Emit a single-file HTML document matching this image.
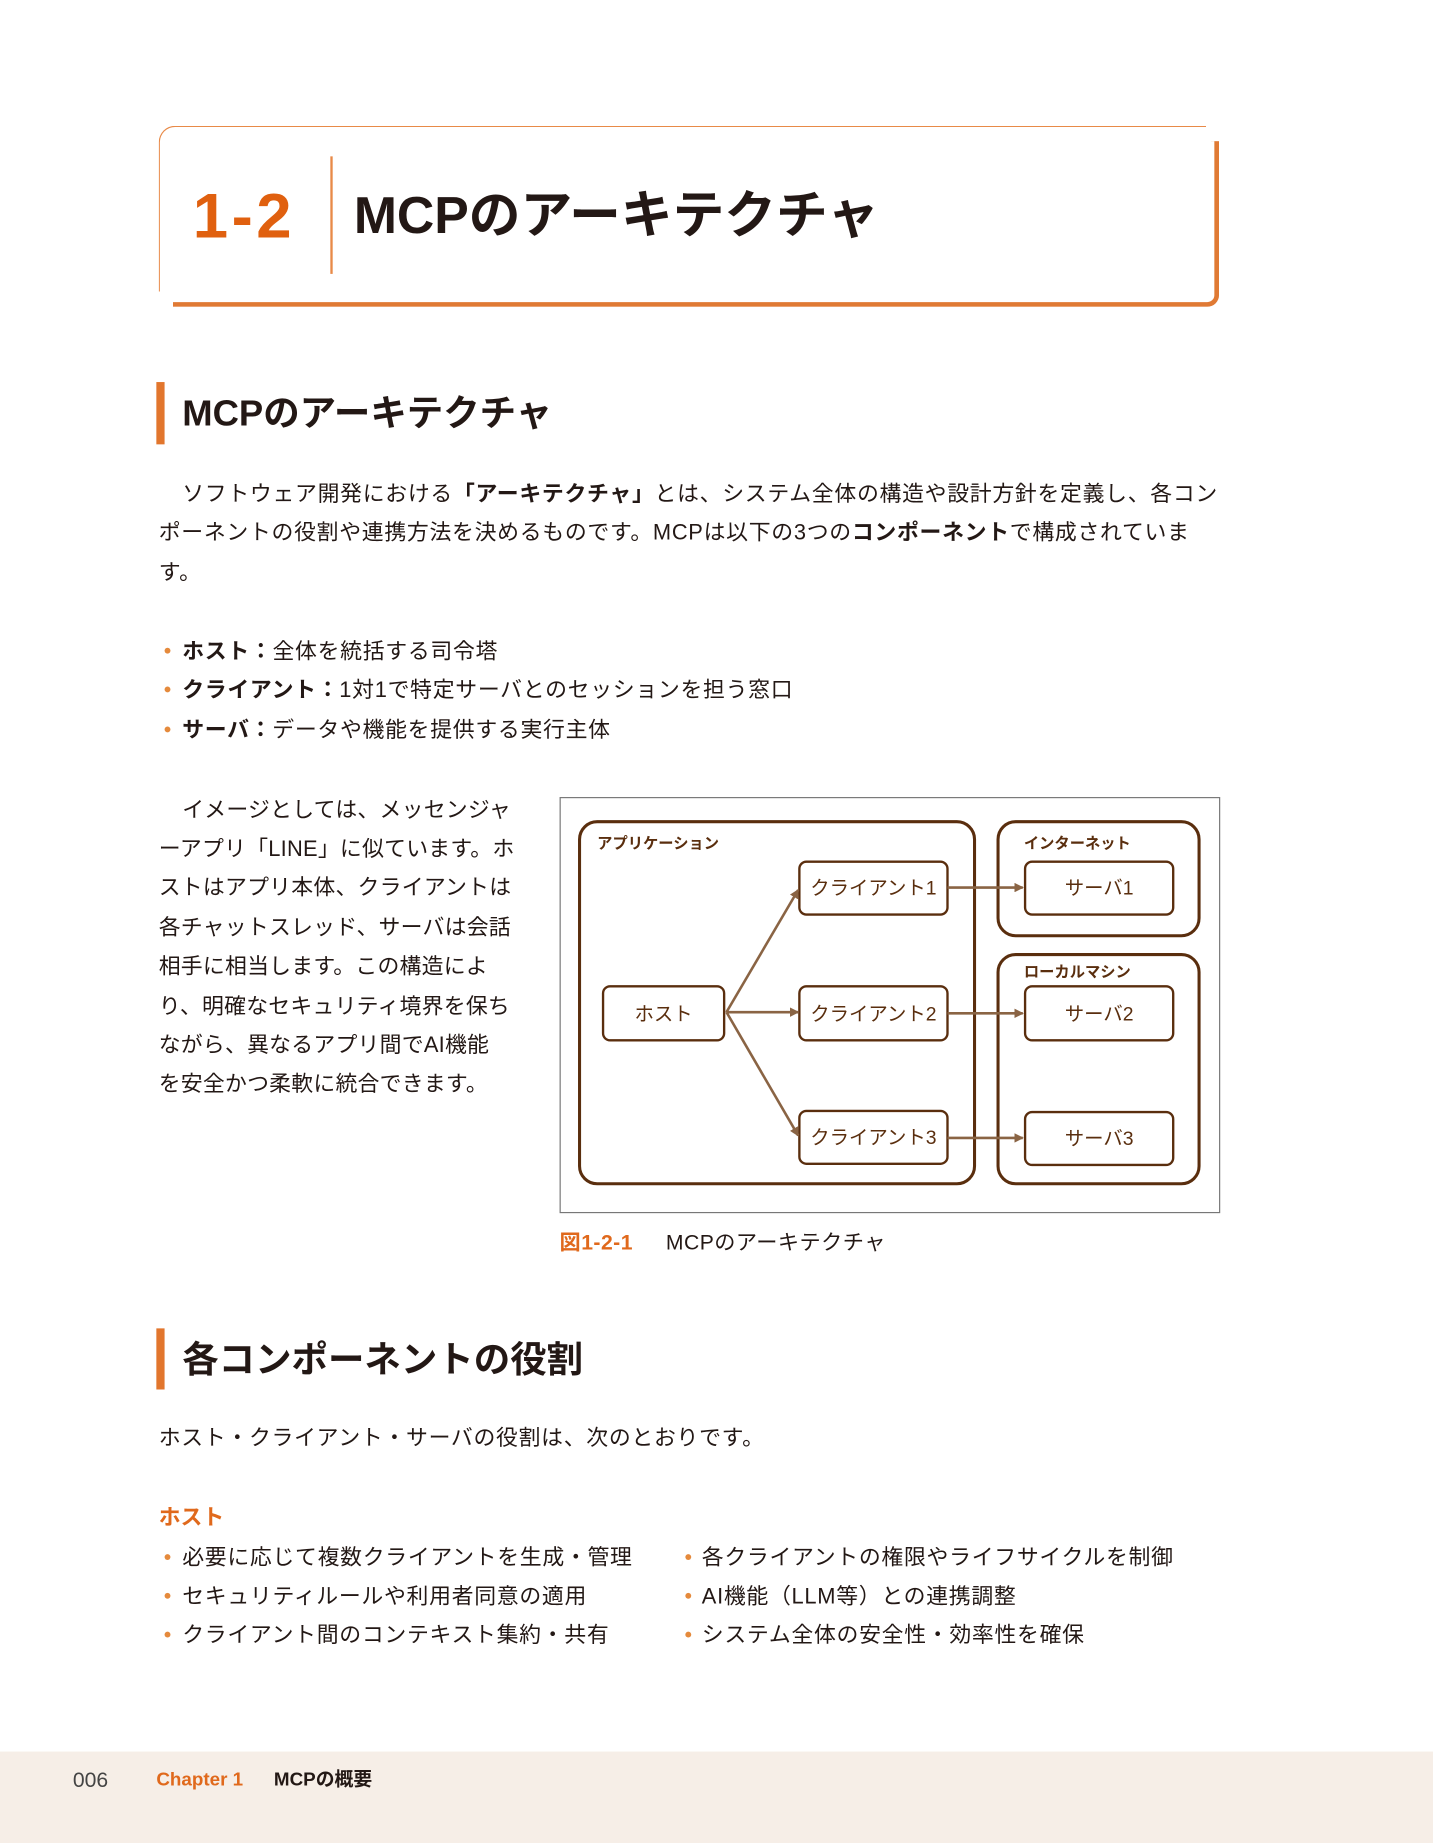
<!DOCTYPE html>
<html><head><meta charset="utf-8"><style>
html,body{margin:0;padding:0;background:#fff;}
body{width:1433px;height:1843px;overflow:hidden;position:relative;}
#w{position:absolute;left:0;top:0;width:1219px;height:1568px;transform:scale(1.17555);transform-origin:0 0;font-family:"Liberation Sans","Noto Sans CJK JP",sans-serif;color:#231815;}
.a{position:absolute;white-space:nowrap;}
.t{font-size:18.6px;line-height:20px;letter-spacing:0.6px;}
.b{font-weight:bold;}
.o{color:#e0691c;}
.dot{position:absolute;width:5px;height:5px;border-radius:50%;background:#e58a3c;}
.bar{position:absolute;left:133px;width:7px;background:#e2762d;}
.h2{font-size:31px;font-weight:bold;line-height:36px;}
</style></head><body><div id="w">
<!-- header -->
<div style="position:absolute;left:135px;top:107px;width:890px;height:140px;border-top:1.5px solid #e88a48;border-left:1.5px solid #e88a48;border-top-left-radius:14px;border-right:none;border-bottom:none;"></div>
<div style="position:absolute;left:147px;top:120px;width:886px;height:137px;border-right:4px solid #e07a34;border-bottom:4px solid #e07a34;border-bottom-right-radius:10px;"></div>
<div style="position:absolute;left:281px;top:133px;width:1.5px;height:100px;background:#e88a48;"></div>
<div class="a o b" style="left:164px;top:154px;font-size:54px;line-height:60px;color:#e0600f;letter-spacing:3px;">1-2</div>
<div class="a b" style="left:301px;top:156px;font-size:44px;line-height:56px;">MCPのアーキテクチャ</div>

<div class="bar" style="top:325px;height:53px;"></div>
<div class="a h2" style="left:155px;top:334px;">MCPのアーキテクチャ</div>

<div class="a t" style="left:155px;top:410px;">ソフトウェア開発における<span class="b">「アーキテクチャ」</span>とは、システム全体の構造や設計方針を定義し、各コン</div>
<div class="a t" style="left:135px;top:443px;">ポーネントの役割や連携方法を決めるものです。MCPは以下の3つの<span class="b">コンポーネント</span>で構成されていま</div>
<div class="a t" style="left:135px;top:477px;">す。</div>

<div class="dot" style="left:140px;top:551px;"></div><div class="a t" style="left:155px;top:544px;"><span class="b">ホスト：</span>全体を統括する司令塔</div>
<div class="dot" style="left:140px;top:584px;"></div><div class="a t" style="left:155px;top:577px;"><span class="b">クライアント：</span>1対1で特定サーバとのセッションを担う窓口</div>
<div class="dot" style="left:140px;top:618px;"></div><div class="a t" style="left:155px;top:611px;"><span class="b">サーバ：</span>データや機能を提供する実行主体</div>

<div class="a t" style="left:155px;top:679px;letter-spacing:0.2px;">イメージとしては、メッセンジャ</div>
<div class="a t" style="left:135px;top:712px;letter-spacing:0.2px;">ーアプリ「LINE」に似ています。ホ</div>
<div class="a t" style="left:135px;top:745px;letter-spacing:0.2px;">ストはアプリ本体、クライアントは</div>
<div class="a t" style="left:135px;top:779px;letter-spacing:0.2px;">各チャットスレッド、サーバは会話</div>
<div class="a t" style="left:135px;top:812px;letter-spacing:0.2px;">相手に相当します。この構造によ</div>
<div class="a t" style="left:135px;top:846px;letter-spacing:0.2px;">り、明確なセキュリティ境界を保ち</div>
<div class="a t" style="left:135px;top:879px;letter-spacing:0.2px;">ながら、異なるアプリ間でAI機能</div>
<div class="a t" style="left:135px;top:912px;letter-spacing:0.2px;">を安全かつ柔軟に統合できます。</div>

<!-- diagram -->
<svg style="position:absolute;left:0;top:0" width="1219" height="1100" viewBox="0 0 1219 1100">
<defs><marker id="ar" markerWidth="8" markerHeight="8" refX="7" refY="4" orient="auto" markerUnits="userSpaceOnUse"><path d="M0,0 L8,4 L0,8 z" fill="#8a6444"/></marker></defs>
<rect x="476.5" y="678.5" width="561" height="353" fill="#fff" stroke="#777" stroke-width="1"/>
<g fill="none" stroke="#5a2e0e" stroke-width="2.6">
<rect x="493" y="699" width="336" height="308" rx="15"/>
<rect x="849" y="699" width="171" height="97" rx="15"/>
<rect x="849" y="812" width="171" height="195" rx="15"/>
<g stroke-width="2">
<rect x="513" y="839" width="103" height="46" rx="6"/>
<rect x="680" y="733" width="126" height="45" rx="6"/>
<rect x="680" y="839" width="126" height="46" rx="6"/>
<rect x="680" y="945" width="126" height="45" rx="6"/>
<rect x="872" y="733" width="126" height="45" rx="6"/>
<rect x="872" y="839" width="126" height="46" rx="6"/>
<rect x="872" y="946" width="126" height="45" rx="6"/>
</g></g>
<g stroke="#8a6444" stroke-width="2.2" marker-end="url(#ar)">
<line x1="618" y1="861" x2="679" y2="757"/>
<line x1="618" y1="861" x2="679" y2="861"/>
<line x1="618" y1="861" x2="679" y2="966"/>
<line x1="806" y1="755" x2="870" y2="755"/>
<line x1="806" y1="862" x2="870" y2="862"/>
<line x1="806" y1="968" x2="870" y2="968"/>
</g>
<g font-family="Liberation Sans,Noto Sans CJK JP,sans-serif" fill="#5a2e0e">
<g font-size="13" font-weight="bold">
<text x="508" y="722">アプリケーション</text>
<text x="871" y="722">インターネット</text>
<text x="871" y="831">ローカルマシン</text>
</g>
<g font-size="16.5" text-anchor="middle">
<text x="564.5" y="868">ホスト</text>
<text x="743" y="761">クライアント1</text>
<text x="743" y="868">クライアント2</text>
<text x="743" y="973">クライアント3</text>
<text x="935" y="761">サーバ1</text>
<text x="935" y="868">サーバ2</text>
<text x="935" y="974">サーバ3</text>
</g></g>
</svg>
<div class="a" style="left:476px;top:1047px;font-size:18px;line-height:20px;letter-spacing:0.4px;"><span class="b o">図1-2-1</span><span style="display:inline-block;width:28px"></span>MCPのアーキテクチャ</div>

<div class="bar" style="top:1130px;height:52px;"></div>
<div class="a h2" style="left:155px;top:1139px;">各コンポーネントの役割</div>
<div class="a t" style="left:135px;top:1213px;">ホスト・クライアント・サーバの役割は、次のとおりです。</div>
<div class="a b o" style="left:135px;top:1281px;font-size:18.6px;line-height:20px;">ホスト</div>

<div class="dot" style="left:140px;top:1322px;"></div><div class="a t" style="left:155px;top:1315px;">必要に応じて複数クライアントを生成・管理</div>
<div class="dot" style="left:140px;top:1355px;"></div><div class="a t" style="left:155px;top:1348px;">セキュリティルールや利用者同意の適用</div>
<div class="dot" style="left:140px;top:1388px;"></div><div class="a t" style="left:155px;top:1381px;">クライアント間のコンテキスト集約・共有</div>
<div class="dot" style="left:583px;top:1322px;"></div><div class="a t" style="left:597px;top:1315px;">各クライアントの権限やライフサイクルを制御</div>
<div class="dot" style="left:583px;top:1355px;"></div><div class="a t" style="left:597px;top:1348px;">AI機能（LLM等）との連携調整</div>
<div class="dot" style="left:583px;top:1388px;"></div><div class="a t" style="left:597px;top:1381px;">システム全体の安全性・効率性を確保</div>

<div style="position:absolute;left:0;top:1490px;width:1219px;height:78px;background:#f6eee7;"></div>
<div class="a" style="left:62px;top:1504px;font-size:18px;line-height:20px;color:#444;">006</div>
<div class="a b o" style="left:133px;top:1505px;font-size:16px;line-height:20px;">Chapter 1</div>
<div class="a b" style="left:233px;top:1505px;font-size:16px;line-height:20px;">MCPの概要</div>
</div></body></html>
